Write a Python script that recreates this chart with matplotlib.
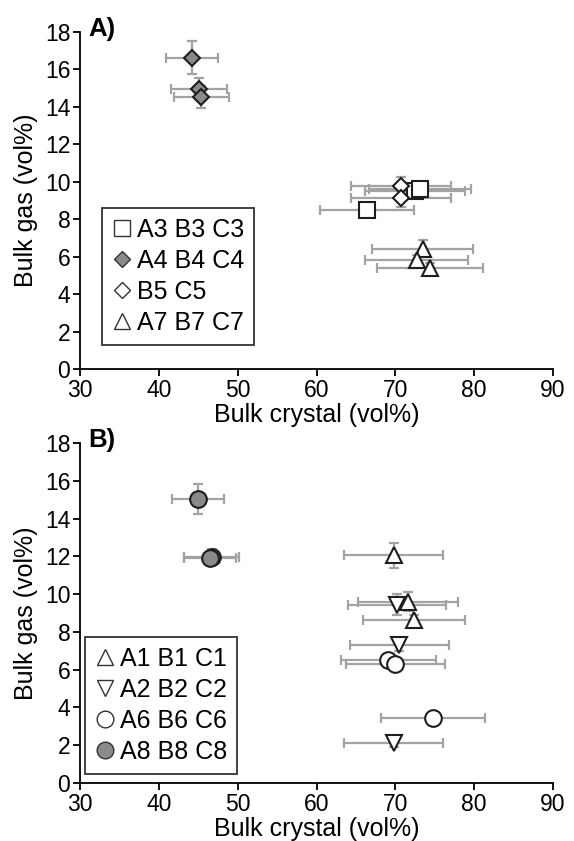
import matplotlib
matplotlib.use('Agg')
import matplotlib.pyplot as plt
from matplotlib.lines import Line2D

plt.rcParams['font.family'] = ['Liberation Sans', 'DejaVu Sans']

# ---- panel A data ----
a_sq_x = [66.4, 72.5, 73.1]
a_sq_y = [8.5, 9.5, 9.64]
a_sq_xe = [6.0, 6.3, 6.5]
a_sq_ye = [0.35, 0.35, 0.35]

a_gd_x = [44.2, 45.1, 45.4]
a_gd_y = [16.63, 14.98, 14.53]
a_gd_xe = [3.25, 3.5, 3.5]
a_gd_ye = [0.87, 0.55, 0.6]

a_wd_x = [70.7, 70.7]
a_wd_y = [9.76, 9.16]
a_wd_xe = [6.3, 6.3]
a_wd_ye = [0.5, 0.5]

a_tr_x = [73.5, 72.7, 74.4]
a_tr_y = [6.44, 5.82, 5.38]
a_tr_xe = [6.4, 6.5, 6.7]
a_tr_ye = [0.45, 0.3, 0.3]

# ---- panel B data ----
b_up_x = [69.8, 71.6, 72.4]
b_up_y = [12.06, 9.6, 8.62]
b_up_xe = [6.25, 6.35, 6.45]
b_up_ye = [0.65, 0.5, 0.3]

b_dn_x = [70.2, 70.5, 69.8]
b_dn_y = [9.45, 7.3, 2.1]
b_dn_xe = [6.2, 6.3, 6.25]
b_dn_ye = [0.55, 0.3, 0.2]

b_oc_x = [69.1, 70.0, 74.8]
b_oc_y = [6.51, 6.28, 3.46]
b_oc_xe = [6.05, 6.25, 6.6]
b_oc_ye = [0.2, 0.2, 0.2]

b_gc_x = [45.0, 46.7, 46.5]
b_gc_y = [15.03, 11.97, 11.9]
b_gc_xe = [3.3, 3.5, 3.3]
b_gc_ye = [0.8, 0.4, 0.35]

GRAY = '#8a8a8a'
ERR = '#a3a3a3'
EDGE = '#1e1e1e'


def series(ax, x, y, xe, ye, marker, fc, ms):
    ax.errorbar(x, y, xerr=xe, yerr=ye, fmt='none', ecolor=ERR,
                elinewidth=1.6, capsize=3.5, capthick=1.6, zorder=2)
    ax.plot(x, y, linestyle='none', marker=marker, markersize=ms,
            markerfacecolor=fc, markeredgecolor=EDGE, markeredgewidth=1.5,
            zorder=3)


def style(ax, tag):
    ax.set_xlim(30, 90)
    ax.set_ylim(0, 18)
    ax.set_xticks(range(30, 91, 10))
    ax.set_yticks(range(0, 19, 2))
    for s in ['top', 'right']:
        ax.spines[s].set_visible(False)
    for s in ['left', 'bottom']:
        ax.spines[s].set_linewidth(1.3)
    ax.tick_params(direction='out', length=5, width=1.3, labelsize=16.5, pad=2)
    ax.set_xlabel('Bulk crystal (vol%)', fontsize=18, labelpad=1)
    ax.set_ylabel('Bulk gas (vol%)', fontsize=18, labelpad=5)
    ax.text(0.017, 1.01, tag, transform=ax.transAxes, fontsize=18.5,
            fontweight='bold', va='center', ha='left')


def legend(ax, items, anchor):
    handles = [Line2D([], [], linestyle='none', marker=m, markersize=ms,
                      markerfacecolor=fc, markeredgecolor='#333333',
                      markeredgewidth=1.0) for m, fc, ms, _ in items]
    labels = [t for _, _, _, t in items]
    lg = ax.legend(handles, labels, loc='lower left', bbox_to_anchor=anchor,
                   fontsize=18, frameon=True, fancybox=False, numpoints=1,
                   handlelength=0.75, handletextpad=0.25, labelspacing=0.28,
                   borderpad=0.4, borderaxespad=0)
    lg.get_frame().set_edgecolor('black')
    lg.get_frame().set_linewidth(1.3)


fig = plt.figure(figsize=(5.74, 8.41), dpi=100)
ax1 = fig.add_axes([0.1394, 0.561, 0.824, 0.401])
ax2 = fig.add_axes([0.1394, 0.069, 0.824, 0.404])

series(ax1, a_gd_x, a_gd_y, a_gd_xe, a_gd_ye, 'D', GRAY, 8.5)
series(ax1, a_sq_x, a_sq_y, a_sq_xe, a_sq_ye, 's', 'white', 11.5)
series(ax1, a_wd_x, a_wd_y, a_wd_xe, a_wd_ye, 'D', 'white', 8.5)
series(ax1, a_tr_x, a_tr_y, a_tr_xe, a_tr_ye, '^', 'white', 12)
style(ax1, 'A)')
legend(ax1, [('s', 'white', 12, 'A3 B3 C3'),
             ('D', GRAY, 8.5, 'A4 B4 C4'),
             ('D', 'white', 8.5, 'B5 C5'),
             ('^', 'white', 12, 'A7 B7 C7')], (0.047, 0.072))

series(ax2, b_gc_x, b_gc_y, b_gc_xe, b_gc_ye, 'o', GRAY, 12)
series(ax2, b_up_x, b_up_y, b_up_xe, b_up_ye, '^', 'white', 12)
series(ax2, b_dn_x, b_dn_y, b_dn_xe, b_dn_ye, 'v', 'white', 12)
series(ax2, b_oc_x, b_oc_y, b_oc_xe, b_oc_ye, 'o', 'white', 12)
style(ax2, 'B)')
legend(ax2, [('^', 'white', 12, 'A1 B1 C1'),
             ('v', 'white', 12, 'A2 B2 C2'),
             ('o', 'white', 12, 'A6 B6 C6'),
             ('o', GRAY, 12, 'A8 B8 C8')], (0.011, 0.026))

fig.savefig('out.png', dpi=100)
